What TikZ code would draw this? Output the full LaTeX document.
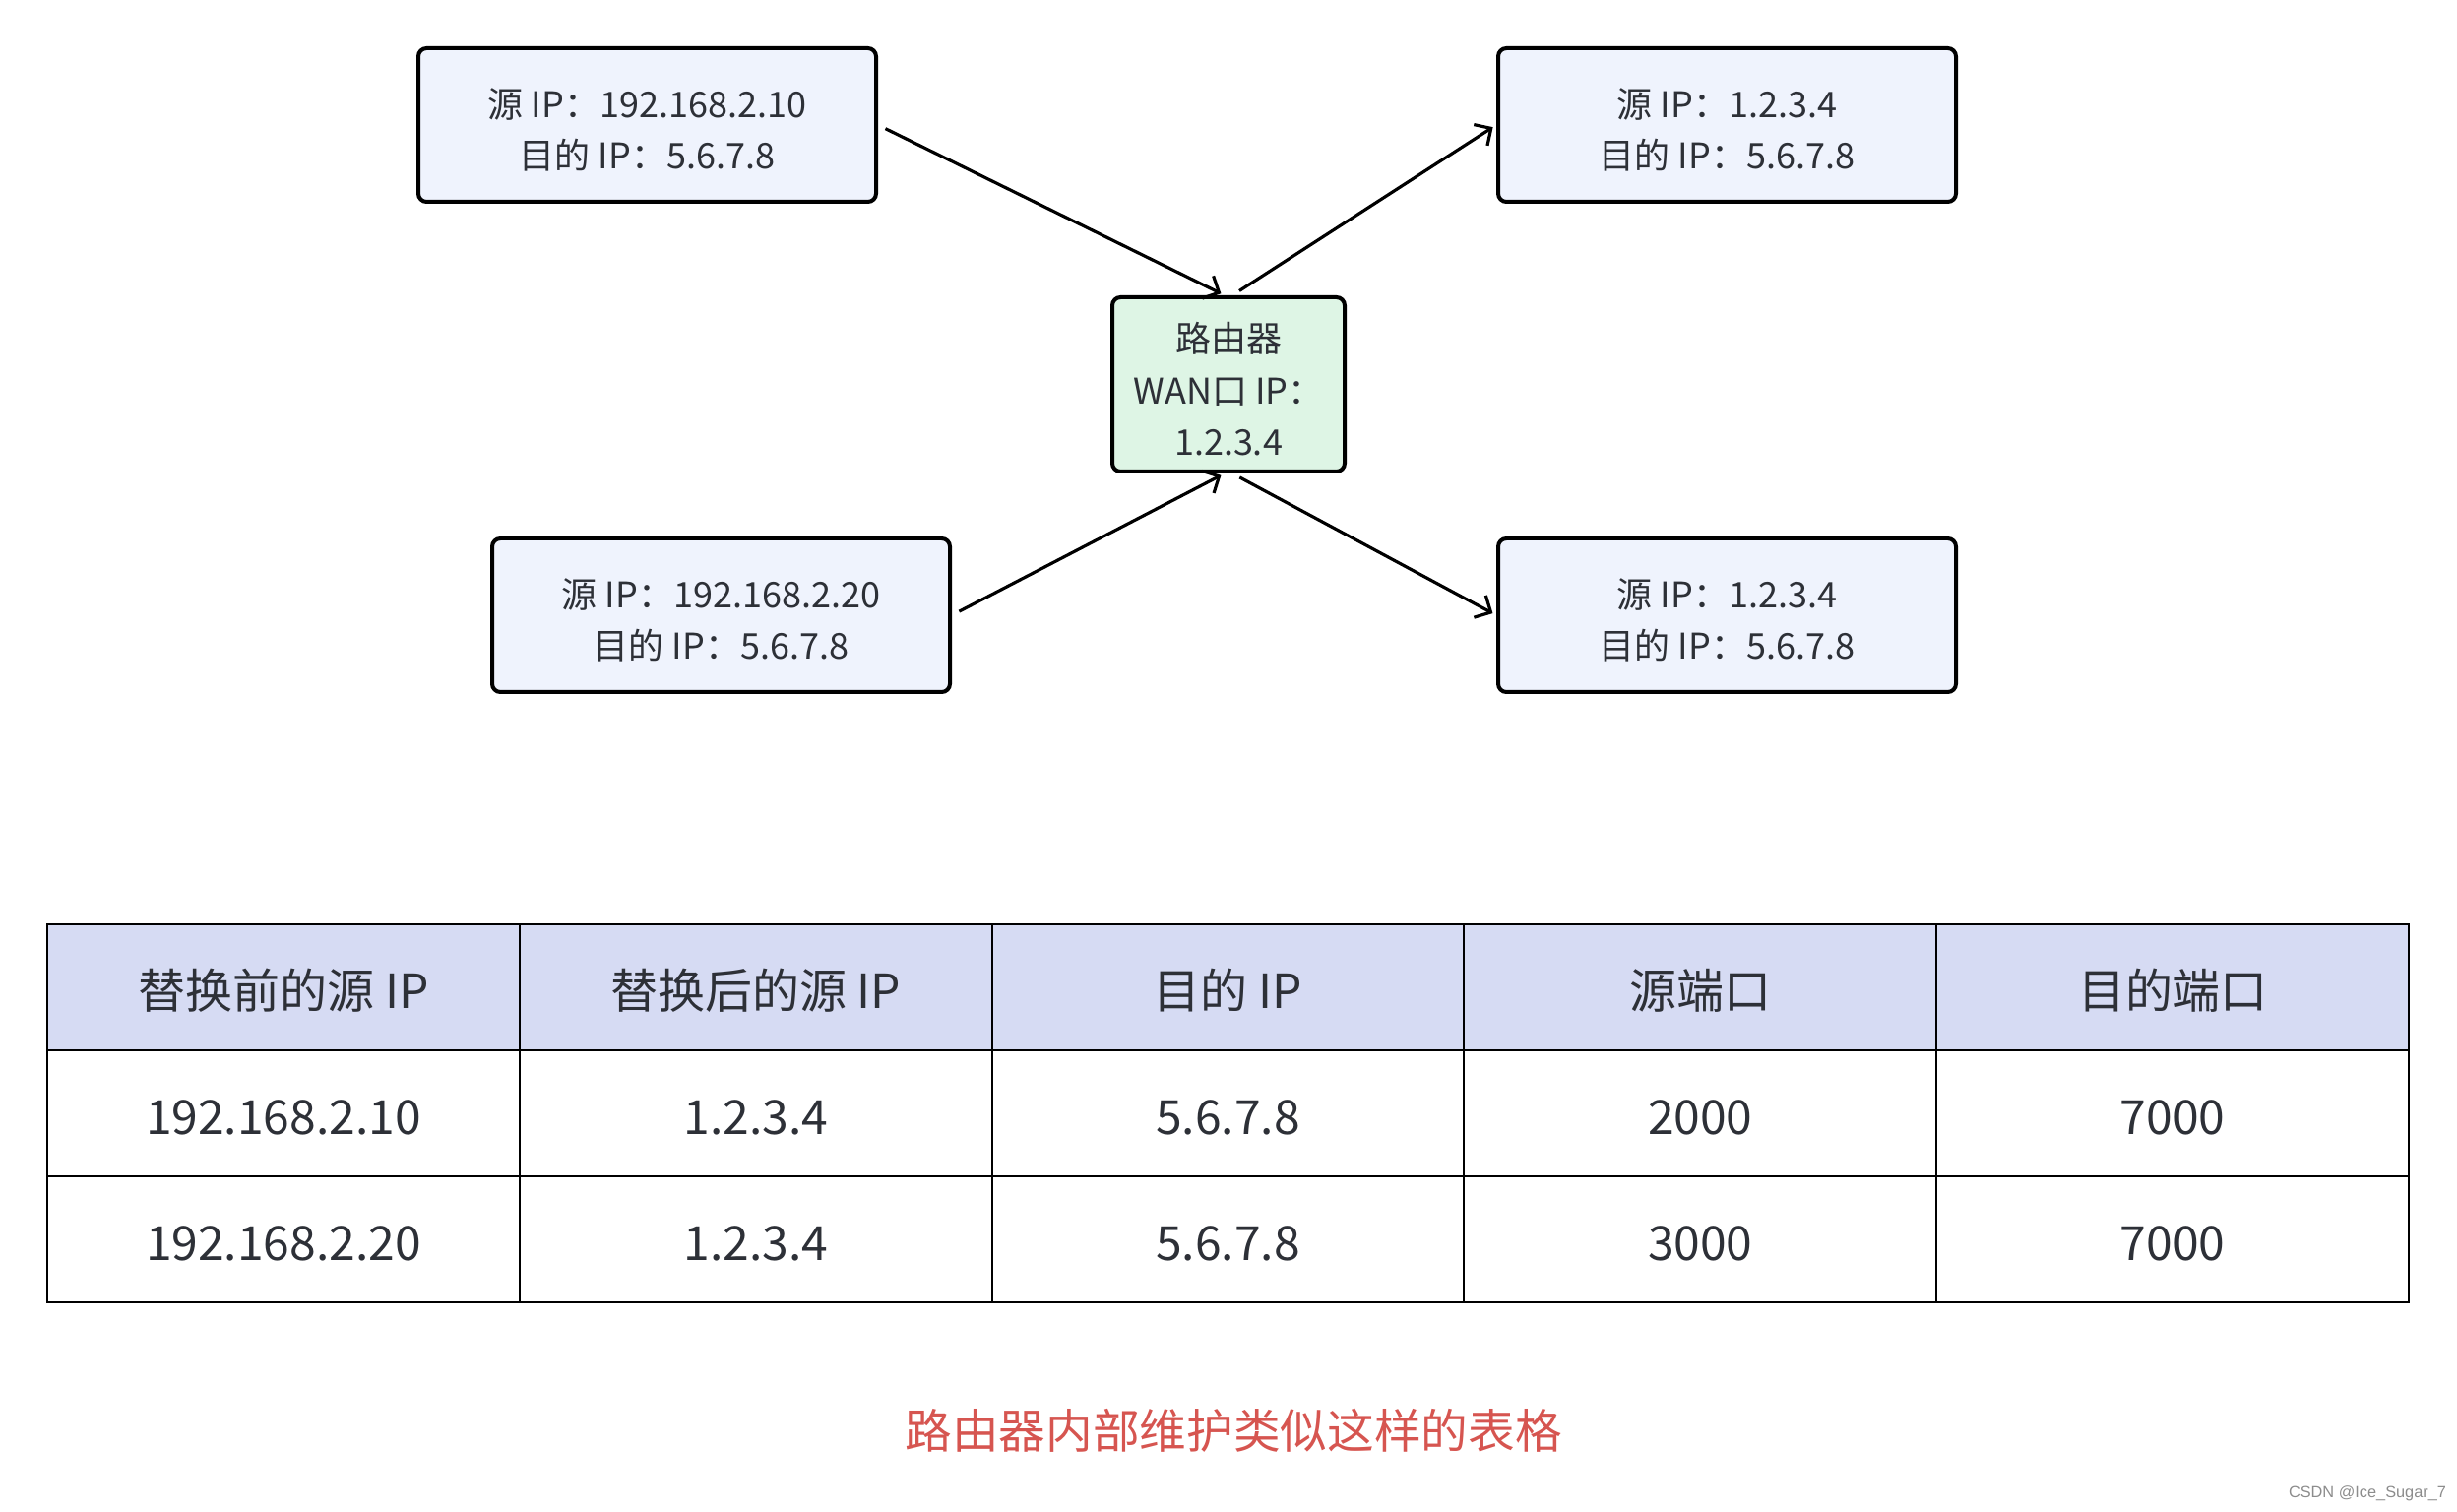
\documentclass[tikz,border=0pt]{standalone}
\usepackage{fontspec}
\setmainfont{Noto Sans CJK SC}
\newfontfamily\markfont{Liberation Sans}
\usetikzlibrary{arrows.meta}

\definecolor{ipfill}{RGB}{239,243,253}
\definecolor{routerfill}{RGB}{222,245,229}
\definecolor{headfill}{RGB}{214,219,243}
\definecolor{notered}{RGB}{214,85,80}
\definecolor{txtgray}{RGB}{45,48,55}

% strut that pushes the first line of a box a little lower
\newcommand\up{\rule{0pt}{12pt}}

\tikzset{
  ipbox/.style={draw=black, line width=1.2pt, rounded corners=2.5pt, fill=ipfill,
    minimum width=139.5pt, minimum height=46.8pt, inner sep=0pt, align=center,
    text=txtgray, font=\fontsize{10.8}{15.8}\selectfont},
  routerbox/.style={ipbox, fill=routerfill, minimum width=70.8pt, minimum height=53.1pt},
  flow/.style={line width=0.95pt, -{Straight Barb[length=3.8pt,width=7.6pt]},
    shorten <=2.5pt, shorten >=1.2pt},
  cell/.style={draw=black, line width=0.6pt, minimum width=143.94pt, minimum height=38.4pt,
    inner sep=0pt, text height=14pt, text depth=1pt, text=txtgray,
    font=\fontsize{14.4}{17}\selectfont},
  headcell/.style={cell, fill=headfill}
}

\begin{document}
\begin{tikzpicture}[x=0.3pt,y=0.3pt,yscale=-1]
\useasboundingbox (0,0) rectangle (2496,1536);

% packets and router
\node[ipbox] (src1) at (657.5,127) {\up 源 IP：192.168.2.10\\目的 IP：5.6.7.8};
\node[ipbox] (src2) at (732.5,625) {\up 源 IP：192.168.2.20\\目的 IP：5.6.7.8};
\node[ipbox] (dst1) at (1754.5,127) {\up 源 IP：1.2.3.4\\目的 IP：5.6.7.8};
\node[ipbox] (dst2) at (1754.5,625) {\up 源 IP：1.2.3.4\\目的 IP：5.6.7.8};
\node[routerbox] (router) at (1248,390.5) {\up 路由器\\WAN口 IP：\\1.2.3.4};

\draw[flow] (src1.east) -- ([xshift=-1.2pt]router.north);
\draw[flow] ([xshift=1.2pt]router.north) -- (dst1.west);
\draw[flow] (src2.east) -- ([xshift=-1.2pt]router.south);
\draw[flow] ([xshift=1.2pt]router.south) -- (dst2.west);

% NAT table
\foreach \txt [count=\i] in {替换前的源 IP, 替换后的源 IP, 目的 IP, 源端口, 目的端口}
  \node[headcell] (h\i) at ({48+479.8*(\i-0.5)},1003) {\txt};
\foreach \txt [count=\i] in {192.168.2.10, 1.2.3.4, 5.6.7.8, 2000, 7000}
  \node[cell] (a\i) at ({48+479.8*(\i-0.5)},1131) {\txt};
\foreach \txt [count=\i] in {192.168.2.20, 1.2.3.4, 5.6.7.8, 3000, 7000}
  \node[cell] (b\i) at ({48+479.8*(\i-0.5)},1259) {\txt};

\node[text=notered, font=\fontsize{14.3}{17}\selectfont] (note) at (1253,1453) {路由器内部维护类似这样的表格};
\node[text=black!45, font=\markfont\fontsize{4.9}{6}\selectfont] (mark) at (2405,1517) {CSDN @Ice\_Sugar\_7};
\end{tikzpicture}
\end{document}
